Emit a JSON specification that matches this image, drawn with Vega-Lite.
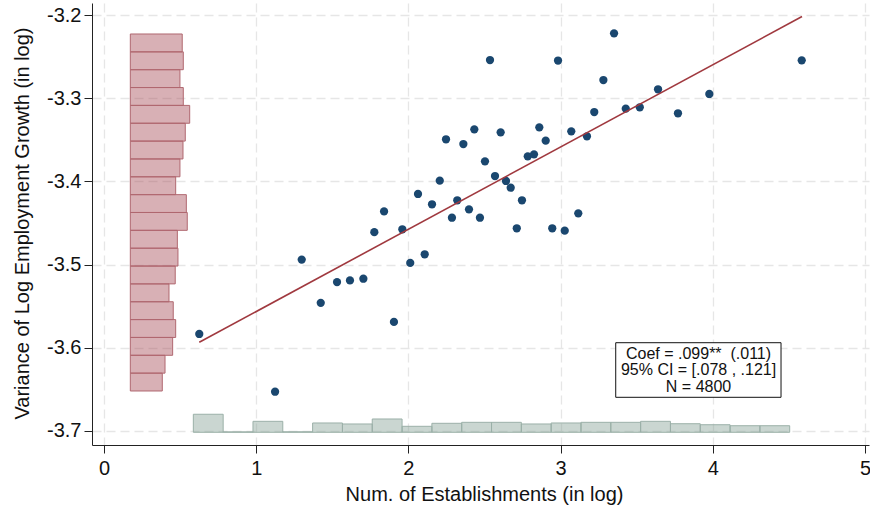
{
  "$schema": "https://vega.github.io/schema/vega-lite/v6.json",
  "width": 777,
  "height": 442,
  "autosize": {"type": "none"},
  "padding": {"left": 92, "top": 3, "right": 1, "bottom": 62},
  "background": "white",
  "config": {
    "view": {"stroke": null},
    "font": "Liberation Sans",
    "axis": {
      "domainColor": "#222222",
      "domainWidth": 1,
      "tickColor": "#222222",
      "tickWidth": 1,
      "tickSize": 8,
      "labelFont": "Liberation Sans",
      "labelFontSize": 20,
      "labelColor": "#111111",
      "titleFont": "Liberation Sans",
      "titleFontSize": 20,
      "titleFontWeight": "normal",
      "titleColor": "#111111",
      "gridColor": "#e6e6e6",
      "gridDash": [9, 5],
      "gridWidth": 1.3,
      "labelFlush": false,
      "labelOverlap": false
    }
  },
  "datasets": {
    "points": [
      {"x": 0.626, "y": -3.5835}, {"x": 1.124, "y": -3.653}, {"x": 1.299, "y": -3.494}, {"x": 1.424, "y": -3.546},
      {"x": 1.531, "y": -3.521}, {"x": 1.616, "y": -3.519}, {"x": 1.704, "y": -3.517}, {"x": 1.776, "y": -3.461},
      {"x": 1.84, "y": -3.436}, {"x": 1.905, "y": -3.569}, {"x": 1.96, "y": -3.4575}, {"x": 2.012, "y": -3.498},
      {"x": 2.063, "y": -3.415}, {"x": 2.107, "y": -3.4876}, {"x": 2.155, "y": -3.4274}, {"x": 2.206, "y": -3.399},
      {"x": 2.247, "y": -3.3492}, {"x": 2.286, "y": -3.4436}, {"x": 2.321, "y": -3.4226}, {"x": 2.361, "y": -3.3549},
      {"x": 2.398, "y": -3.4335}, {"x": 2.433, "y": -3.3372}, {"x": 2.47, "y": -3.4436}, {"x": 2.503, "y": -3.3757},
      {"x": 2.536, "y": -3.2538}, {"x": 2.569, "y": -3.3934}, {"x": 2.606, "y": -3.3408}, {"x": 2.641, "y": -3.3994},
      {"x": 2.672, "y": -3.4075}, {"x": 2.712, "y": -3.4563}, {"x": 2.746, "y": -3.4226}, {"x": 2.784, "y": -3.3697},
      {"x": 2.825, "y": -3.3673}, {"x": 2.86, "y": -3.3348}, {"x": 2.902, "y": -3.3509}, {"x": 2.945, "y": -3.4563},
      {"x": 2.983, "y": -3.2544}, {"x": 3.027, "y": -3.4592}, {"x": 3.07, "y": -3.3396}, {"x": 3.116, "y": -3.4383},
      {"x": 3.173, "y": -3.3456}, {"x": 3.221, "y": -3.3164}, {"x": 3.281, "y": -3.2779}, {"x": 3.351, "y": -3.2217},
      {"x": 3.428, "y": -3.3124}, {"x": 3.52, "y": -3.3107}, {"x": 3.64, "y": -3.289}, {"x": 3.771, "y": -3.3179},
      {"x": 3.977, "y": -3.2947}, {"x": 4.584, "y": -3.2542}
    ],
    "fit": [
      {"x": 0.626, "y": -3.5935}, {"x": 4.586, "y": -3.2015}
    ],
    "yhist": [
      {"yhi": -3.2225, "ylo": -3.24398, "x0": 0.173, "xr": 0.514},
      {"yhi": -3.24398, "ylo": -3.26546, "x0": 0.173, "xr": 0.521},
      {"yhi": -3.26546, "ylo": -3.28694, "x0": 0.173, "xr": 0.499},
      {"yhi": -3.28694, "ylo": -3.30842, "x0": 0.173, "xr": 0.521},
      {"yhi": -3.30842, "ylo": -3.3299, "x0": 0.173, "xr": 0.563},
      {"yhi": -3.3299, "ylo": -3.35138, "x0": 0.173, "xr": 0.534},
      {"yhi": -3.35138, "ylo": -3.37286, "x0": 0.173, "xr": 0.519},
      {"yhi": -3.37286, "ylo": -3.39434, "x0": 0.173, "xr": 0.499},
      {"yhi": -3.39434, "ylo": -3.41582, "x0": 0.173, "xr": 0.471},
      {"yhi": -3.41582, "ylo": -3.4373, "x0": 0.173, "xr": 0.541},
      {"yhi": -3.4373, "ylo": -3.45878, "x0": 0.173, "xr": 0.547},
      {"yhi": -3.45878, "ylo": -3.48026, "x0": 0.173, "xr": 0.482},
      {"yhi": -3.48026, "ylo": -3.50174, "x0": 0.173, "xr": 0.486},
      {"yhi": -3.50174, "ylo": -3.52322, "x0": 0.173, "xr": 0.468},
      {"yhi": -3.52322, "ylo": -3.5447, "x0": 0.173, "xr": 0.427},
      {"yhi": -3.5447, "ylo": -3.56618, "x0": 0.173, "xr": 0.455},
      {"yhi": -3.56618, "ylo": -3.58766, "x0": 0.173, "xr": 0.471},
      {"yhi": -3.58766, "ylo": -3.60914, "x0": 0.173, "xr": 0.451},
      {"yhi": -3.60914, "ylo": -3.63062, "x0": 0.173, "xr": 0.401},
      {"yhi": -3.63062, "ylo": -3.6521, "x0": 0.173, "xr": 0.383}
    ],
    "xhist": [
      {"xlo": 0.587, "xhi": 0.7829, "y0": -3.7018, "yt": -3.6801},
      {"xlo": 0.7829, "xhi": 0.9788, "y0": -3.7018, "yt": -3.7013},
      {"xlo": 0.9788, "xhi": 1.1747, "y0": -3.7018, "yt": -3.6886},
      {"xlo": 1.1747, "xhi": 1.3706, "y0": -3.7018, "yt": -3.7012},
      {"xlo": 1.3706, "xhi": 1.5665, "y0": -3.7018, "yt": -3.6906},
      {"xlo": 1.5665, "xhi": 1.7624, "y0": -3.7018, "yt": -3.6918},
      {"xlo": 1.7624, "xhi": 1.9583, "y0": -3.7018, "yt": -3.6858},
      {"xlo": 1.9583, "xhi": 2.1542, "y0": -3.7018, "yt": -3.6946},
      {"xlo": 2.1542, "xhi": 2.3501, "y0": -3.7018, "yt": -3.691},
      {"xlo": 2.3501, "xhi": 2.546, "y0": -3.7018, "yt": -3.6898},
      {"xlo": 2.546, "xhi": 2.7419, "y0": -3.7018, "yt": -3.6898},
      {"xlo": 2.7419, "xhi": 2.9378, "y0": -3.7018, "yt": -3.6918},
      {"xlo": 2.9378, "xhi": 3.1337, "y0": -3.7018, "yt": -3.6906},
      {"xlo": 3.1337, "xhi": 3.3296, "y0": -3.7018, "yt": -3.6898},
      {"xlo": 3.3296, "xhi": 3.5255, "y0": -3.7018, "yt": -3.6898},
      {"xlo": 3.5255, "xhi": 3.7214, "y0": -3.7018, "yt": -3.6886},
      {"xlo": 3.7214, "xhi": 3.9173, "y0": -3.7018, "yt": -3.6915},
      {"xlo": 3.9173, "xhi": 4.1132, "y0": -3.7018, "yt": -3.6927},
      {"xlo": 4.1132, "xhi": 4.3091, "y0": -3.7018, "yt": -3.6939},
      {"xlo": 4.3091, "xhi": 4.505, "y0": -3.7018, "yt": -3.6939}
    ],
    "note": [
      {"x0": 3.362, "x1": 4.448, "y0": -3.594, "y1": -3.6597, "xc": 3.906, "yc": -3.607}
    ]
  },
  "layer": [
    {
      "data": {"name": "yhist"},
      "mark": {"type": "rect", "fill": "#a8505a", "fillOpacity": 0.45, "stroke": "#b06870", "strokeWidth": 1},
      "encoding": {
        "x": {
          "field": "x0",
          "type": "quantitative",
          "scale": {"domain": [-0.0788, 5.026], "nice": false, "zero": false},
          "axis": {
            "title": "Num. of Establishments (in log)",
            "values": [0, 1, 2, 3, 4, 5],
            "format": "d",
            "grid": true,
            "labelPadding": 5,
            "titleX": 392,
            "titleY": 55,
            "titleAlign": "center",
            "titleBaseline": "alphabetic"
          }
        },
        "x2": {"field": "xr"},
        "y": {
          "field": "ylo",
          "type": "quantitative",
          "scale": {"domain": [-3.7171, -3.1852], "nice": false, "zero": false},
          "axis": {
            "title": "Variance of Log Employment Growth (in log)",
            "values": [-3.7, -3.6, -3.5, -3.4, -3.3, -3.2],
            "labelExpr": "replace(format(datum.value, '.1f'), '−', '-')",
            "grid": true,
            "labelPadding": 3,
            "titleAngle": 270,
            "titleX": -63.5,
            "titleY": 220,
            "titleAlign": "center",
            "titleBaseline": "alphabetic"
          }
        },
        "y2": {"field": "yhi"}
      }
    },
    {
      "data": {"name": "xhist"},
      "mark": {"type": "rect", "fill": "#8aa39a", "fillOpacity": 0.45, "stroke": "#9bb0a8", "strokeWidth": 1},
      "encoding": {
        "x": {"field": "xlo", "type": "quantitative", "title": "Num. of Establishments (in log)"},
        "x2": {"field": "xhi"},
        "y": {"field": "y0", "type": "quantitative", "title": "Variance of Log Employment Growth (in log)"},
        "y2": {"field": "yt"}
      }
    },
    {
      "data": {"name": "points"},
      "mark": {"type": "circle", "size": 68, "color": "#1a476f", "opacity": 1},
      "encoding": {
        "x": {"field": "x", "type": "quantitative", "title": "Num. of Establishments (in log)"},
        "y": {"field": "y", "type": "quantitative", "title": "Variance of Log Employment Growth (in log)"}
      }
    },
    {
      "data": {"name": "fit"},
      "mark": {"type": "line", "color": "#a0393f", "strokeWidth": 1.6},
      "encoding": {
        "x": {"field": "x", "type": "quantitative", "title": "Num. of Establishments (in log)"},
        "y": {"field": "y", "type": "quantitative", "title": "Variance of Log Employment Growth (in log)"}
      }
    },
    {
      "data": {"name": "note"},
      "mark": {"type": "rect", "fill": "white", "stroke": "#111111", "strokeWidth": 1},
      "encoding": {
        "x": {"field": "x0", "type": "quantitative", "title": "Num. of Establishments (in log)"},
        "x2": {"field": "x1"},
        "y": {"field": "y0", "type": "quantitative", "title": "Variance of Log Employment Growth (in log)"},
        "y2": {"field": "y1"}
      }
    },
    {
      "data": {"name": "note"},
      "mark": {
        "type": "text",
        "text": ["Coef = .099**\u00a0 (.011)", "95% CI = [.078 , .121]", "N = 4800"],
        "font": "Liberation Sans",
        "fontSize": 16,
        "lineHeight": 16.5,
        "align": "center",
        "baseline": "middle",
        "color": "#111111"
      },
      "encoding": {
        "x": {"field": "xc", "type": "quantitative", "title": "Num. of Establishments (in log)"},
        "y": {"field": "yc", "type": "quantitative", "title": "Variance of Log Employment Growth (in log)"}
      }
    }
  ]
}
